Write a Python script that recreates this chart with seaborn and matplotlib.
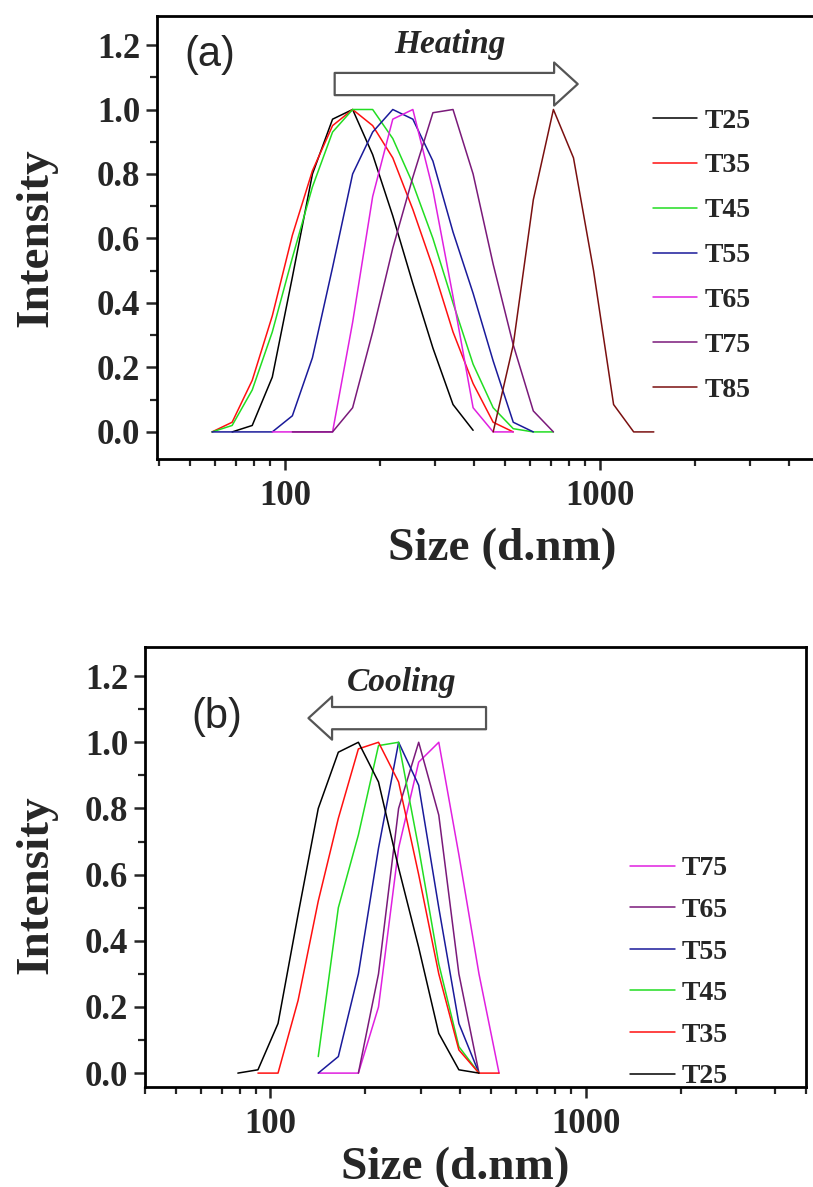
import numpy as np
import pandas as pd
import matplotlib
matplotlib.use("Agg")
import matplotlib.pyplot as plt
import seaborn as sns

# Zetasizer size bins (nm), bins k=34..57
SIZE_BINS = [58.77, 68.06, 78.82, 91.28, 105.7, 122.4, 141.8, 164.2, 190.1, 220.2,
             255.0, 295.3, 342.0, 396.1, 458.7, 531.2, 615.1, 712.4, 825.0, 955.4,
             1106.0, 1281.0, 1484.0, 1718.0]
BIN0 = 34

# Panel (a) heating: (first bin index, normalized intensities)
A_T25 = (35, [0, 0.02, 0.17, 0.48, 0.80, 0.97, 1.0, 0.86, 0.67, 0.46, 0.26, 0.085, 0.005])
A_T35 = (34, [0, 0.03, 0.16, 0.36, 0.61, 0.81, 0.95, 1.0, 0.95, 0.85, 0.69, 0.51, 0.31, 0.15, 0.03, 0])
A_T45 = (34, [0, 0.02, 0.13, 0.31, 0.54, 0.76, 0.93, 1.0, 1.0, 0.91, 0.77, 0.60, 0.40, 0.21, 0.075, 0.01, 0, 0])
A_T55 = (34, [0, 0, 0, 0, 0.05, 0.23, 0.51, 0.80, 0.93, 1.0, 0.97, 0.84, 0.62, 0.43, 0.22, 0.03, 0])
A_T65 = (37, [0, 0, 0, 0, 0.34, 0.73, 0.97, 1.0, 0.75, 0.42, 0.075, 0, 0])
A_T75 = (38, [0, 0, 0, 0.075, 0.31, 0.57, 0.79, 0.99, 1.0, 0.80, 0.52, 0.27, 0.065, 0])
A_T85 = (48, [0, 0.27, 0.72, 1.0, 0.85, 0.50, 0.085, 0, 0])
A_LABELS = ["T25", "T35", "T45", "T55", "T65", "T75", "T85"]

# Panel (b) cooling
B_T25 = (36, [0, 0.01, 0.15, 0.48, 0.80, 0.97, 1.0, 0.88, 0.62, 0.38, 0.12, 0.01, 0])
B_T35 = (37, [0, 0, 0.22, 0.52, 0.77, 0.98, 1.0, 0.88, 0.60, 0.30, 0.07, 0, 0])
B_T45 = (40, [0.05, 0.50, 0.72, 0.99, 1.0, 0.68, 0.33, 0.08, 0])
B_T55 = (40, [0, 0.05, 0.30, 0.68, 1.0, 0.87, 0.50, 0.15, 0])
B_T65 = (42, [0, 0.30, 0.80, 1.0, 0.78, 0.30, 0])
B_T75 = (40, [0, 0, 0, 0.20, 0.68, 0.94, 1.0, 0.66, 0.30, 0])
B_LABELS = ["T75", "T65", "T55", "T45", "T35", "T25"]

COLORS = {"T25": "#000000", "T35": "#ff1010", "T45": "#22dd22", "T55": "#1a1a9a",
          "T65": "#e020e0", "T75": "#7a1a7a", "T85": "#7a1010"}
COLORS_B = {"T25": "#000000", "T35": "#ff1010", "T45": "#22dd22", "T55": "#1a1a9a",
            "T65": "#7a1a7a", "T75": "#e020e0"}


def to_frame(series):
    rows = []
    for name, (k0, vals) in series.items():
        for i, v in enumerate(vals):
            rows.append({"size": SIZE_BINS[k0 - BIN0 + i], "intensity": v, "T": name})
    return pd.DataFrame(rows)


df_a = to_frame({"T25": A_T25, "T35": A_T35, "T45": A_T45, "T55": A_T55,
                 "T65": A_T65, "T75": A_T75, "T85": A_T85})
df_b = to_frame({"T25": B_T25, "T35": B_T35, "T45": B_T45, "T55": B_T55,
                 "T65": B_T65, "T75": B_T75})

sns.set_style("ticks")
plt.rcParams["font.family"] = ["Liberation Serif", "DejaVu Serif"]
plt.rcParams["font.weight"] = "bold"
plt.rcParams["axes.labelweight"] = "bold"

fig = plt.figure(figsize=(8.13, 11.87), dpi=100)
ax_a = fig.add_axes([157 / 813, 1 - 459 / 1187, (820 - 157) / 813, (459 - 16) / 1187])
ax_b = fig.add_axes([145 / 813, 1 - 1087 / 1187, (806 - 145) / 813, (1087 - 647) / 1187])

sns.lineplot(data=df_a, x="size", y="intensity", hue="T", hue_order=A_LABELS,
             palette=COLORS, estimator=None, sort=True, lw=1.1, ax=ax_a)
sns.lineplot(data=df_b, x="size", y="intensity", hue="T", hue_order=B_LABELS,
             palette=COLORS_B, estimator=None, sort=True, lw=1.1, ax=ax_b)

for ax, xlim, ylim in [(ax_a, (39.3, 5000), (-0.084, 1.29)),
                       (ax_b, (40, 5000), (-0.042, 1.288))]:
    ax.set_xscale("log")
    ax.set_xlim(*xlim)
    ax.set_ylim(*ylim)
    ax.set_xticks([100, 1000])
    ax.set_xticklabels(["100", "1000"])
    ax.set_yticks([0.0, 0.2, 0.4, 0.6, 0.8, 1.0, 1.2])
    ax.set_yticklabels(["0.0", "0.2", "0.4", "0.6", "0.8", "1.0", "1.2"])
    ax.yaxis.set_minor_locator(matplotlib.ticker.MultipleLocator(0.1))
    ax.xaxis.set_minor_locator(matplotlib.ticker.LogLocator(base=10, subs=np.arange(2, 10)))
    ax.xaxis.set_minor_formatter(matplotlib.ticker.NullFormatter())
    ax.tick_params(axis="both", which="major", direction="out", length=8, width=1.8,
                   labelsize=25, pad=4, top=False, right=False)
    ax.tick_params(axis="x", which="major", pad=7)
    ax.tick_params(axis="both", which="minor", direction="out", length=5, width=1.6,
                   top=False, right=False)
    for s in ax.spines.values():
        s.set_linewidth(2.0)
        s.set_color("black")
    for lab in ax.get_xticklabels() + ax.get_yticklabels():
        lab.set_fontweight("bold")
    ax.set_xlabel("Size (d.nm)", fontsize=34, fontweight="bold")
    ax.set_ylabel("Intensity", fontsize=34, fontweight="bold")

ax_a.xaxis.set_label_coords(0.52, -0.155)
ax_a.yaxis.set_label_coords(-0.15, 0.5)
ax_b.xaxis.set_label_coords(0.469, -0.135)
ax_b.yaxis.set_label_coords(-0.132, 0.46)

# Legends
for ax, labels, cols, anchor, spacing in [
        (ax_a, A_LABELS, COLORS, (0.748, 0.792), 0.70),
        (ax_b, B_LABELS, COLORS_B, (0.734, 0.525), 0.58)]:
    handles = [matplotlib.lines.Line2D([], [], color=cols[l], lw=1.1) for l in labels]
    ax.legend(handles, labels, loc="upper left", bbox_to_anchor=anchor, frameon=False,
              prop={"family": "Liberation Serif", "weight": "bold", "size": 20},
              handlelength=1.6, handletextpad=0.25, labelspacing=spacing,
              borderpad=0, borderaxespad=0)

# Panel labels
ax_a.text(0.08, 0.912, "(a)", transform=ax_a.transAxes, ha="center", va="center",
          fontsize=30, family="Liberation Sans", fontweight="normal")
ax_b.text(0.109, 0.841, "(b)", transform=ax_b.transAxes, ha="center", va="center",
          fontsize=30, family="Liberation Sans", fontweight="normal")

# Heating / cooling arrows
arrow_style = "simple,head_length=0.85,head_width=1.55,tail_width=0.8"
ax_a.annotate("", xy=(851, 1.079), xytext=(144, 1.079),
              arrowprops=dict(arrowstyle=arrow_style, fc="white", ec="#555555", lw=1.6,
                              mutation_scale=20, shrinkA=0, shrinkB=0))
ax_a.text(334, 1.203, "Heating", ha="center", va="center", fontsize=24,
          fontweight="bold", fontstyle="italic")
ax_b.annotate("", xy=(132, 1.073), xytext=(483, 1.073),
              arrowprops=dict(arrowstyle=arrow_style, fc="white", ec="#555555", lw=1.6,
                              mutation_scale=20, shrinkA=0, shrinkB=0))
ax_b.text(260, 1.182, "Cooling", ha="center", va="center", fontsize=24,
          fontweight="bold", fontstyle="italic")

fig.savefig("out.png", dpi=100)
